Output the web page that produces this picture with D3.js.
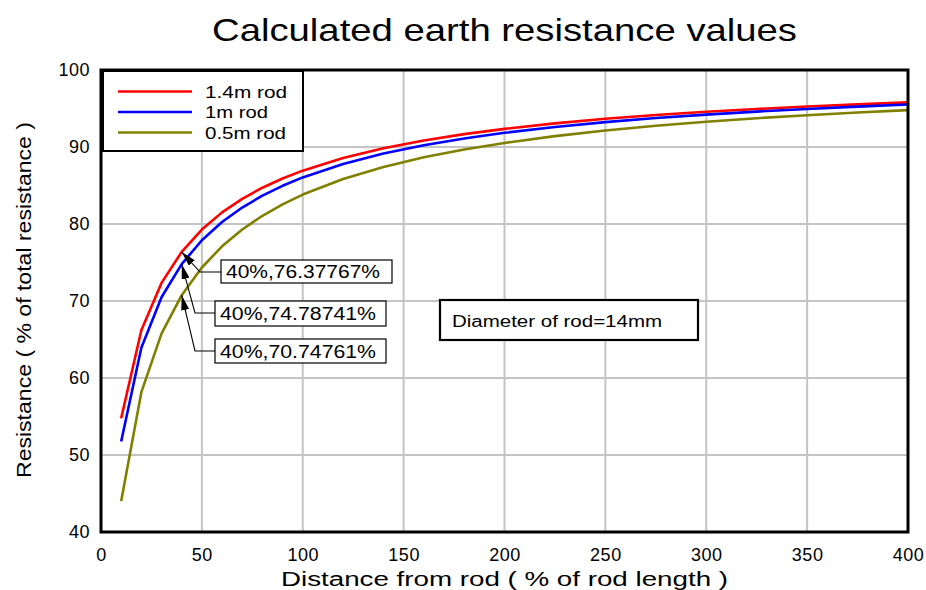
<!DOCTYPE html>
<html><head><meta charset="utf-8">
<script src="https://cdn.jsdelivr.net/npm/d3@7"></script>
<style>body{margin:0;background:#fff}svg{display:block;font-family:"Liberation Sans",Arial,sans-serif}</style>
</head><body>
<script>
const distances = [10,20,30,40,50,60,70,80,90,100,120,140,160,180,200,225,250,275,300,325,350,375,400];
const rod14 = [54.78,66.21,72.35,76.38,79.28,81.51,83.27,84.71,85.91,86.93,88.57,89.84,90.85,91.67,92.35,93.07,93.66,94.15,94.58,94.94,95.26,95.54,95.79];
const rod10 = [51.74,63.94,70.49,74.79,77.89,80.26,82.14,83.68,84.96,86.05,87.80,89.15,90.23,91.11,91.84,92.60,93.23,93.76,94.21,94.60,94.94,95.24,95.51];
const rod05 = [44.01,58.16,65.76,70.75,74.35,77.10,79.28,81.07,82.55,83.82,85.85,87.41,88.66,89.68,90.53,91.41,92.14,92.76,93.28,93.74,94.13,94.48,94.79];
const seriesNames = ["1.4m rod","1m rod","0.5m rod"];
const seriesColors = ["#ff0000","#0000ff","#808000"];
const xTicks = [0,50,100,150,200,250,300,350,400];
const yTicks = [40,50,60,70,80,90,100];
const annotations = [
  {x:40, y:76.37767, label:"40%,76.37767%"},
  {x:40, y:74.78741, label:"40%,74.78741%"},
  {x:40, y:70.74761, label:"40%,70.74761%"}
];

const W=926,H=590;
const svg=d3.select("body").append("svg").attr("width",W).attr("height",H);
const x=d3.scaleLinear().domain([0,400]).range([101,908]);
const y=d3.scaleLinear().domain([40,100]).range([532,70]);

// grid
svg.append("g").selectAll("line").data(xTicks.slice(1,-1)).join("line")
  .attr("x1",d=>x(d)).attr("x2",d=>x(d)).attr("y1",y(40)).attr("y2",y(100))
  .attr("stroke","#c4c4c4").attr("stroke-width",2);
svg.append("g").selectAll("line").data(yTicks.slice(1,-1)).join("line")
  .attr("y1",d=>y(d)).attr("y2",d=>y(d)).attr("x1",x(0)).attr("x2",x(400))
  .attr("stroke","#c4c4c4").attr("stroke-width",2);

// axes
const xa=svg.append("g").attr("transform",`translate(0,${y(40)})`)
  .call(d3.axisBottom(x).tickValues(xTicks).tickSize(0).tickPadding(16));
xa.select(".domain").remove();
xa.selectAll("text").attr("font-size",18).attr("letter-spacing",0.5).attr("font-family","Liberation Sans, Arial, sans-serif").attr("fill","#000");
const ya=svg.append("g").attr("transform",`translate(${x(0)},0)`)
  .call(d3.axisLeft(y).tickValues(yTicks).tickSize(0).tickPadding(11));
ya.select(".domain").remove();
ya.selectAll("text").attr("font-size",18).attr("letter-spacing",0.5).attr("font-family","Liberation Sans, Arial, sans-serif").attr("fill","#000");

// series
const allSeries=[rod14,rod10,rod05];
const line=d3.line().x((d,i)=>x(distances[i])).y(d=>y(d));
allSeries.forEach((s,k)=>{
  svg.append("path").datum(s).attr("d",line).attr("fill","none")
    .attr("stroke",seriesColors[k]).attr("stroke-width",2.6).attr("stroke-linejoin","round");
});

// plot frame
svg.append("rect").attr("x",x(0)).attr("y",y(100)).attr("width",x(400)-x(0)).attr("height",y(40)-y(100))
  .attr("fill","none").attr("stroke","#000").attr("stroke-width",3);

// legend
const legendW=[82,63,81];
const lg=svg.append("g");
lg.append("rect").attr("x",103).attr("y",71).attr("width",200).attr("height",80).attr("fill","#fff").attr("stroke","#000").attr("stroke-width",2);
seriesNames.forEach((n,i)=>{
  const yy=91.5+i*20.5;
  lg.append("line").attr("x1",118).attr("x2",192).attr("y1",yy).attr("y2",yy).attr("stroke",seriesColors[i]).attr("stroke-width",2.5);
  lg.append("text").attr("x",205).attr("y",yy+6).attr("font-size",17)
    .attr("textLength",legendW[i]).attr("lengthAdjust","spacingAndGlyphs").text(n);
});

// annotations
const boxes=[{bx:221,by:260,bw:171,bh:23,ex:200,ey:272,tx:226,tw:154},
             {bx:215,by:301,bw:171,bh:25,ex:195,ey:313,tx:220,tw:156},
             {bx:215,by:339,bw:171,bh:24,ex:195,ey:351,tx:220,tw:156}];
svg.append("defs").append("marker").attr("id","ah").attr("viewBox","0 0 10 10").attr("refX",10).attr("refY",5)
  .attr("markerWidth",15).attr("markerHeight",8).attr("markerUnits","userSpaceOnUse").attr("orient","auto")
  .attr("preserveAspectRatio","none")
  .append("path").attr("d","M0,0L10,5L0,10Z").attr("fill","#000");
annotations.forEach((a,i)=>{
  const b=boxes[i];
  const tx=x(a.x), ty=y(a.y);
  svg.append("path").attr("d",`M${b.bx},${b.ey}L${b.ex},${b.ey}L${tx},${ty}`)
    .attr("fill","none").attr("stroke","#000").attr("stroke-width",1.1).attr("marker-end","url(#ah)");
  svg.append("rect").attr("x",b.bx).attr("y",b.by).attr("width",b.bw).attr("height",b.bh)
    .attr("fill","#fff").attr("stroke","#000").attr("stroke-width",1.2);
  svg.append("text").attr("x",b.tx).attr("y",b.by+b.bh/2+6.5)
    .attr("font-size",18).attr("textLength",b.tw).attr("lengthAdjust","spacingAndGlyphs").text(a.label);
});

// diameter note
svg.append("rect").attr("x",440).attr("y",300).attr("width",258).attr("height",40).attr("fill","#fff").attr("stroke","#000").attr("stroke-width",2.2);
svg.append("text").attr("x",452).attr("y",327).attr("font-size",16)
  .attr("textLength",210).attr("lengthAdjust","spacingAndGlyphs").text("Diameter of rod=14mm");

// titles
svg.append("text").attr("x",212).attr("y",41).attr("font-size",32)
  .attr("textLength",585).attr("lengthAdjust","spacingAndGlyphs").text("Calculated earth resistance values");
svg.append("text").attr("x",281).attr("y",586).attr("font-size",20)
  .attr("textLength",447).attr("lengthAdjust","spacingAndGlyphs").text("Distance from rod ( % of rod length )");
svg.append("text").attr("transform","translate(31,478) rotate(-90)").attr("font-size",20)
  .attr("textLength",356).attr("lengthAdjust","spacingAndGlyphs").text("Resistance ( % of total resistance )");
</script>
</body></html>
